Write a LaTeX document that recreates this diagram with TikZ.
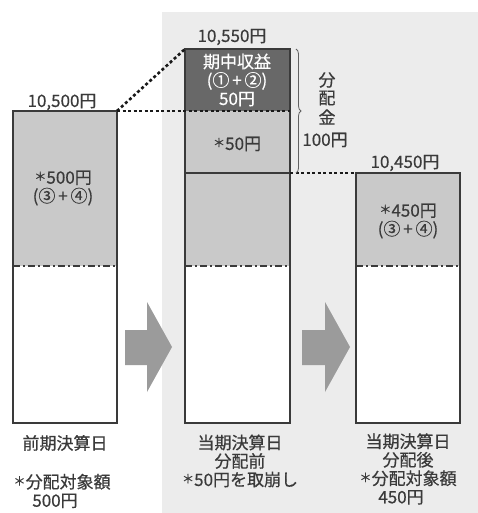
\documentclass[tikz,border=0pt]{standalone}
\usepackage{fontspec}
\setmainfont{Noto Sans CJK JP}[FakeBold=0.5]
\usetikzlibrary{decorations.pathreplacing}
\definecolor{bg}{HTML}{ECECEC}
\definecolor{lg}{HTML}{C9C9C9}
\definecolor{dg}{HTML}{686868}
\definecolor{ar}{HTML}{9B9B9B}
\definecolor{ln}{HTML}{3A3A3A}
\definecolor{tx}{HTML}{3A3A3A}
\newcommand\kome{\raisebox{0.16em}{\scalebox{0.72}{＊}}}
\newcommand\pl{\,+\,}
\begin{document}
\begin{tikzpicture}[x=1pt,y=-1pt,
  lbl/.style={font=\fontsize{17}{18.5}\selectfont, text=tx, inner sep=0pt, align=center},
  wlbl/.style={lbl, text=white},
  boxline/.style={draw=ln, line width=1.7pt},
  dotline/.style={line width=2.6pt, dash pattern=on 3pt off 2.5pt, draw=black!90},
  dashdot/.style={line width=1.7pt, dash pattern=on 7pt off 3pt on 2pt off 3pt, draw=ln},
  bigarrow/.style={fill=ar, draw=none},
  bracestyle/.style={draw=ln!80, line width=0.8pt, decorate, decoration={brace, amplitude=5pt}}]
\useasboundingbox (0,0) rectangle (478,513);
\fill[bg] (162,12) rectangle (478,513);

% corner coordinates
\coordinate (b1tl) at (13,111);  \coordinate (b1tr) at (117,111);
\coordinate (b2tl) at (185,49);  \coordinate (b2mr) at (290,111);
\coordinate (b2sr) at (290,173); \coordinate (b3tl) at (356,173);
\coordinate (brtop) at (296,49); \coordinate (brbot) at (296,173);

% box 1
\fill[lg] (13,111) rectangle (117,266);
\fill[white] (13,266) rectangle (117,423);
\draw[dashdot] (13,266) -- (117,266);
\draw[boxline] (13,111) rectangle (117,423);

% box 2
\fill[dg] (185,49) rectangle (290,111);
\fill[lg] (185,111) rectangle (290,266);
\fill[white] (185,266) rectangle (290,423);
\draw[boxline] (185,173) -- (290,173);
\draw[dashdot] (185,266) -- (290,266);
\draw[boxline] (185,49) rectangle (290,423);

% box 3
\fill[lg] (356,173) rectangle (460,266);
\fill[white] (356,266) rectangle (460,423);
\draw[dashdot] (356,266) -- (460,266);
\draw[boxline] (356,173) rectangle (460,423);

% dotted connectors
\draw[dotline] (b1tr) -- (b2tl);
\draw[dotline] (b1tr) -- (b2mr);
\draw[dotline] (b2sr) -- (b3tl);

% brace
\draw[bracestyle] (brtop) -- (brbot);

% arrows
\fill[bigarrow] (125,330) -- (147,330) -- (147,302) -- (172,347) -- (147,392) -- (147,365) -- (125,365) -- cycle;
\fill[bigarrow] (302,330) -- (325,330) -- (325,302) -- (350,347) -- (325,392) -- (325,365) -- (302,365) -- cycle;

% top values
\node[lbl] (v1) at (62,102) {10,500円};
\node[lbl] (v2) at (232,37) {10,550円};
\node[lbl] (v3) at (405,163) {10,450円};

% inside texts
\node[lbl] (t1) at (63,188) {\kome{}500円\\(③\pl④)};
\node[wlbl] (t2) at (237,80) {期中収益\\(①\pl②)\\50円};
\node[lbl] (t3) at (237,144) {\kome{}50円};
\node[lbl] (t4) at (408,221) {\kome{}450円\\(③\pl④)};

% distribution label
\node[lbl] (d1) at (327,80) {分};
\node[lbl] (d2) at (327,98) {配};
\node[lbl] (d3) at (327,117) {金};
\node[lbl] (d4) at (325,140) {100円};

% bottom labels
\node[lbl] (l1) at (65,443) {前期決算日};
\node[lbl] (l1b) at (62,491) {\kome{}分配対象額\\\hspace*{-14pt}500円};
\node[lbl] (l2) at (240,461) {当期決算日\\分配前\\\kome{}50円を取崩し};
\node[lbl] (l3) at (408,469) {当期決算日\\分配後\\\kome{}分配対象額\\\hspace*{-14pt}450円};
\end{tikzpicture}
\end{document}
